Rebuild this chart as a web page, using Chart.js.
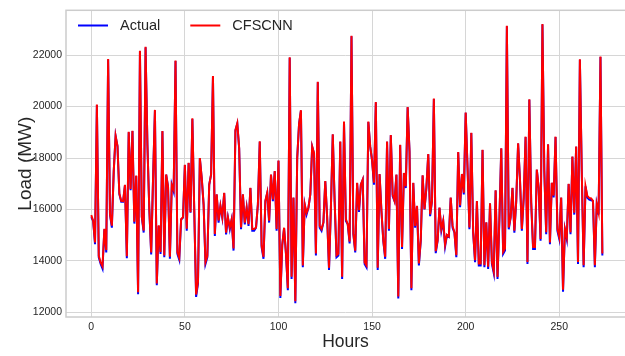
<!DOCTYPE html>
<html>
<head>
<meta charset="utf-8">
<script src="https://cdn.jsdelivr.net/npm/chart.js@4"></script>
<style>
html,body{margin:0;padding:0;background:#fff;overflow:hidden;}
canvas{display:block;}
</style>
</head>
<body>
<canvas id="c" width="625" height="356"></canvas>
<script>
const actual = [
15700,15550,14650,20060,14140,13880,13700,15230,14330,21830,
15800,15290,17500,18850,18450,16600,16300,16300,16950,14100,
19000,16750,19050,15450,17300,12700,22150,15700,15100,22300,
18500,16000,14250,17200,19850,13050,15360,14270,19040,14140,
17350,16900,14080,16960,16700,21770,14270,14040,15610,15680,
17730,15170,17800,15870,19520,16000,12600,13110,17990,17220,
16190,13880,14140,16960,17350,21170,14970,16580,15490,16130,
15680,16640,15030,15680,15230,15610,14400,19070,19330,18370,
15230,16580,15420,16060,15360,16830,15170,15170,15290,16190,
18630,14530,14080,16320,16640,15490,17350,16320,17480,15170,
17890,12560,14600,15270,14270,12860,21900,13300,16450,12350,
17990,19330,19840,13750,16190,15800,16060,16580,18440,18180,
14210,20940,15290,15170,15490,17090,15680,13650,16060,18910,
16320,14140,14210,18630,13300,19400,15550,15420,14680,22730,
15040,14330,17030,15900,16960,17150,13880,13750,19400,18440,
17900,16960,20160,13650,17370,15930,14770,14080,18630,15170,
18880,16510,16320,17350,12540,18500,14460,17410,16830,19970,
18240,12860,17030,15290,16130,13820,14780,17320,16000,16830,
18140,15740,16320,20290,14300,14780,16060,15170,15550,14560,
15000,14940,16450,15290,15100,14140,18220,16090,17370,16580,
19760,17600,15230,18970,15100,13950,16320,13820,13820,18310,
13750,15490,13690,16230,13880,13520,16740,13300,15600,18370,
14270,14400,23120,15230,15680,16830,15100,16320,18560,17150,
15170,16450,18820,13880,20260,16260,14460,14460,17540,16830,
14780,23190,17500,15040,18520,14650,17030,16470,18820,15170,
14850,16450,12800,15230,14850,16990,15040,18050,15800,18440,
13880,21820,17500,13750,16900,16450,16380,16360,16320,13750,
16190,15800,21930,14210
];
const cfscnn = [
15780,15560,14720,20080,14200,13940,13790,15250,14420,21850,
15820,15370,17480,18860,18470,16620,16330,16320,16960,14180,
19020,16800,19060,15520,17320,12780,22170,15720,15180,22320,
18480,16020,14330,17180,19870,13120,15380,14350,19050,14210,
17360,16880,14160,16950,16760,21790,14340,14120,15620,15700,
17740,15250,17810,15890,19540,16020,12690,13180,18000,17230,
16200,13960,14200,16970,17360,21190,15050,16590,15570,16140,
15700,16650,15100,15690,15300,15620,14480,19080,19350,18390,
15300,16590,15490,16070,15430,16840,15240,15240,15300,16200,
18650,14600,14160,16330,16650,15560,17360,16390,17490,15240,
17900,12640,14620,15290,14290,12940,21920,13380,16460,12430,
18000,19340,19860,13820,16200,15870,16070,16590,18450,18190,
14290,20960,15360,15240,15500,17100,15700,13730,16070,18920,
16330,14220,14280,18640,13380,19420,15620,15430,14750,22750,
15060,14400,17040,15970,16970,17160,13950,13830,19420,18450,
17910,17040,20180,13730,17380,15940,14790,14160,18640,15240,
18890,16580,16330,17360,12620,18510,14540,17420,16900,19980,
18250,12940,17040,15360,16140,13900,14800,17330,16010,16840,
18150,15810,16330,20310,14380,14800,16070,15240,15560,14630,
15010,14950,16460,15360,15110,14220,18230,16160,17380,16650,
19770,17610,15300,18980,15110,14030,16330,13900,13900,18320,
13830,15500,13770,16240,13960,13600,16750,13380,15610,18380,
14350,14480,23140,15300,15690,16840,15170,16330,18570,17160,
15240,16460,18830,13960,20280,16270,14540,14540,17550,16840,
14850,23210,17510,15110,18530,14720,17040,16540,18830,15240,
14920,16460,12880,15240,14920,17000,15110,18060,15870,18450,
13960,21840,17510,13830,16910,16520,16450,16430,16330,13830,
16200,15870,21950,14290
];
const hours = Array.from({length: actual.length}, (_, i) => i);
const xTicks = [0, 50, 100, 150, 200, 250];
const yTicks = [12000, 14000, 16000, 18000, 20000, 22000];
const seriesLabels = ['Actual', 'CFSCNN'];
const seriesColors = ['#0000ff', '#ff0000'];

const FONT = "'Liberation Sans', Arial, sans-serif";
const TXT = '#262626';

const framePlugin = {
  id: 'frame',
  beforeDatasetsDraw(chart) {
    const {ctx, chartArea: a} = chart;
    ctx.save();
    ctx.strokeStyle = '#cccccc';
    ctx.lineWidth = 1.5;
    ctx.strokeRect(a.left, a.top, a.right - a.left + 4, a.bottom - a.top);
    ctx.restore();
  }
};

const legendPlugin = {
  id: 'mplLegend',
  afterDraw(chart) {
    const {ctx, chartArea: a} = chart;
    ctx.save();
    ctx.font = '14.5px ' + FONT;
    ctx.textBaseline = 'middle';
    ctx.textAlign = 'left';
    let x = a.left + 12;
    const y = 25.5;
    chart.data.datasets.forEach(ds => {
      ctx.strokeStyle = ds.borderColor;
      ctx.lineWidth = 2;
      ctx.beginPath();
      ctx.moveTo(x, y);
      ctx.lineTo(x + 30, y);
      ctx.stroke();
      ctx.fillStyle = TXT;
      ctx.fillText(ds.label, x + 42, y + 0.5);
      x += 42 + ctx.measureText(ds.label).width + 30;
    });
    ctx.restore();
  }
};

new Chart(document.getElementById('c'), {
  type: 'line',
  data: {
    datasets: [
      {
        label: seriesLabels[0],
        data: actual.map((v, i) => ({x: hours[i], y: v})),
        borderColor: seriesColors[0],
        backgroundColor: seriesColors[0],
        borderWidth: 2,
        pointRadius: 0,
        tension: 0,
        fill: false,
        order: 2
      },
      {
        label: seriesLabels[1],
        data: cfscnn.map((v, i) => ({x: hours[i], y: v})),
        borderColor: seriesColors[1],
        backgroundColor: seriesColors[1],
        borderWidth: 2,
        pointRadius: 0,
        tension: 0,
        fill: false,
        order: 1
      }
    ]
  },
  options: {
    responsive: false,
    animation: false,
    devicePixelRatio: 1,
    layout: {padding: {top: 7, left: 0, right: 0, bottom: 0}},
    plugins: {legend: {display: false}, tooltip: {enabled: false}},
    scales: {
      x: {
        type: 'linear',
        min: -13.5,
        max: 285.1,
        afterBuildTicks: s => { s.ticks = xTicks.map(v => ({value: v})); },
        afterFit: s => { s.height = 39; },
        grid: {color: '#d6d6d6', lineWidth: 1, drawTicks: false},
        border: {display: false},
        ticks: {
          padding: 4,
          color: TXT,
          font: {family: FONT, size: 10.5},
          maxRotation: 0,
          callback: v => String(v)
        },
        title: {
          display: true,
          text: 'Hours',
          color: TXT,
          font: {family: FONT, size: 17.5},
          padding: {top: 0, bottom: 3}
        }
      },
      y: {
        type: 'linear',
        min: 11819,
        max: 23742,
        afterBuildTicks: s => { s.ticks = yTicks.map(v => ({value: v})); },
        afterFit: s => { s.width = 66; },
        grid: {color: '#d6d6d6', lineWidth: 1, drawTicks: false},
        border: {display: false},
        ticks: {
          padding: 4,
          color: TXT,
          font: {family: FONT, size: 10.5},
          callback: v => String(v)
        },
        title: {
          display: true,
          text: 'Load (MW)',
          color: TXT,
          font: {family: FONT, size: 19},
          padding: {top: 14.5, bottom: 0}
        }
      }
    }
  },
  plugins: [framePlugin, legendPlugin]
});
</script>
</body>
</html>
